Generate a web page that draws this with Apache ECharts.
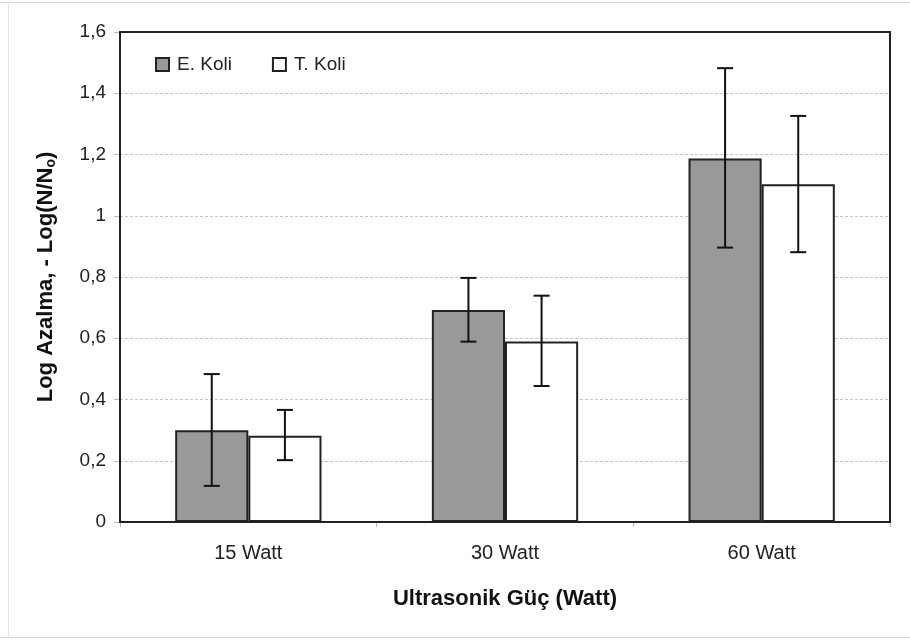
<!DOCTYPE html>
<html>
<head>
<meta charset="utf-8">
<script src="https://cdn.jsdelivr.net/npm/echarts@6/dist/echarts.min.js"></script>
<style>html,body{margin:0;padding:0;background:#fff;}#c{width:910px;height:641px;}</style>
</head>
<body>
<div id="c"></div>
<script>
var categories = ['15 Watt', '30 Watt', '60 Watt'];
var seriesNames = ['E. Koli', 'T. Koli'];
var eKoli = [0.300, 0.692, 1.187];
var eKoliLow = [0.118, 0.589, 0.896];
var eKoliHigh = [0.483, 0.797, 1.482];
var tKoli = [0.282, 0.589, 1.103];
var tKoliLow = [0.202, 0.444, 0.881];
var tKoliHigh = [0.366, 0.739, 1.326];
var yTicks = [0, 0.2, 0.4, 0.6, 0.8, 1, 1.2, 1.4, 1.6];

var GAP = 0.43;
function errItem(offsetSign) {
  return function (params, api) {
    var i = api.value(0);
    var lo = api.coord([i, api.value(1)]);
    var hi = api.coord([i, api.value(2)]);
    var catW = api.size([1, 0])[0];
    var bw = catW * (1 - GAP) / 2;
    var x = lo[0] + offsetSign * bw / 2;
    var cap = 8;
    var st = {stroke: '#111', lineWidth: 2};
    return {type: 'group', children: [
      {type: 'line', shape: {x1: x, y1: lo[1], x2: x, y2: hi[1]}, style: st},
      {type: 'line', shape: {x1: x - cap, y1: lo[1], x2: x + cap, y2: lo[1]}, style: st},
      {type: 'line', shape: {x1: x - cap, y1: hi[1], x2: x + cap, y2: hi[1]}, style: st}
    ]};
  };
}
function errData(lows, highs) {
  return categories.map(function (c, i) { return [i, lows[i], highs[i]]; });
}

var chart = echarts.init(document.getElementById('c'), null, {renderer: 'canvas'});
var font = 'Liberation Sans, Arial, sans-serif';
chart.setOption({
  animation: false,
  backgroundColor: '#fff',
  textStyle: {fontFamily: font},
  graphic: [
    {type: 'line', shape: {x1: 0, y1: 2.5, x2: 910, y2: 2.5}, style: {stroke: '#d8d8d8', lineWidth: 1}},
    {type: 'line', shape: {x1: 8.5, y1: 2, x2: 8.5, y2: 637}, style: {stroke: '#e4e4e4', lineWidth: 1}},
    {type: 'line', shape: {x1: 0, y1: 637.5, x2: 910, y2: 637.5}, style: {stroke: '#d8d8d8', lineWidth: 1}},
    {type: 'rect', shape: {x: 120, y: 32, width: 770, height: 490}, style: {fill: 'none', stroke: '#222', lineWidth: 2}, z: 10}
  ],
  legend: {
    data: seriesNames,
    left: 150, top: 50,
    itemWidth: 13, itemHeight: 13, itemGap: 40,
    icon: 'rect',
    textStyle: {fontFamily: font, fontSize: 19, color: '#222', padding: [0, 0, 0, 3]}
  },
  grid: {left: 120, right: 20, top: 32, bottom: 119, containLabel: false},
  xAxis: {
    type: 'category',
    data: categories,
    name: 'Ultrasonik Güç (Watt)',
    nameLocation: 'middle',
    nameGap: 66,
    nameTextStyle: {fontFamily: font, fontSize: 22, fontWeight: 'bold', color: '#111'},
    axisLine: {lineStyle: {color: '#222', width: 2}},
    axisTick: {show: true, inside: false, length: 5, lineStyle: {color: '#bbb'}},
    axisLabel: {fontFamily: font, fontSize: 20, color: '#222', margin: 21}
  },
  yAxis: {
    type: 'value',
    min: 0, max: 1.6, interval: 0.2,
    name: '{a|Log Azalma, - Log(N/N}{s|o}{a|)}',
    nameLocation: 'middle',
    nameRotate: 90,
    nameGap: 62,
    nameTextStyle: {
      rich: {
        a: {fontFamily: font, fontSize: 22, fontWeight: 'bold', color: '#111'},
        s: {fontFamily: font, fontSize: 14, fontWeight: 'bold', color: '#111', verticalAlign: 'bottom', padding: [10, 0, 0, 0]}
      }
    },
    axisLine: {show: true, lineStyle: {color: '#222', width: 2}},
    axisTick: {show: true, length: 6, lineStyle: {color: '#bbb'}},
    splitLine: {show: true, lineStyle: {color: '#c4c4c4', type: [3, 2], width: 1}},
    axisLabel: {
      fontFamily: font, fontSize: 19, color: '#222', margin: 14,
      formatter: function (v) {
        var s = String(Math.round(v * 10) / 10);
        return s.replace('.', ',');
      }
    }
  },
  series: [
    {
      name: seriesNames[0], type: 'bar', data: eKoli,
      barGap: '0%', barCategoryGap: (GAP * 100) + '%',
      itemStyle: {color: '#999999', borderColor: '#222', borderWidth: 2},
      z: 2
    },
    {
      name: seriesNames[1], type: 'bar', data: tKoli,
      barGap: '0%', barCategoryGap: (GAP * 100) + '%',
      itemStyle: {color: '#ffffff', borderColor: '#222', borderWidth: 2},
      z: 2
    },
    {
      type: 'custom', renderItem: errItem(-1), data: errData(eKoliLow, eKoliHigh),
      encode: {x: 0, y: [1, 2]}, z: 5, silent: true
    },
    {
      type: 'custom', renderItem: errItem(1), data: errData(tKoliLow, tKoliHigh),
      encode: {x: 0, y: [1, 2]}, z: 5, silent: true
    }
  ]
});
</script>
</body>
</html>
